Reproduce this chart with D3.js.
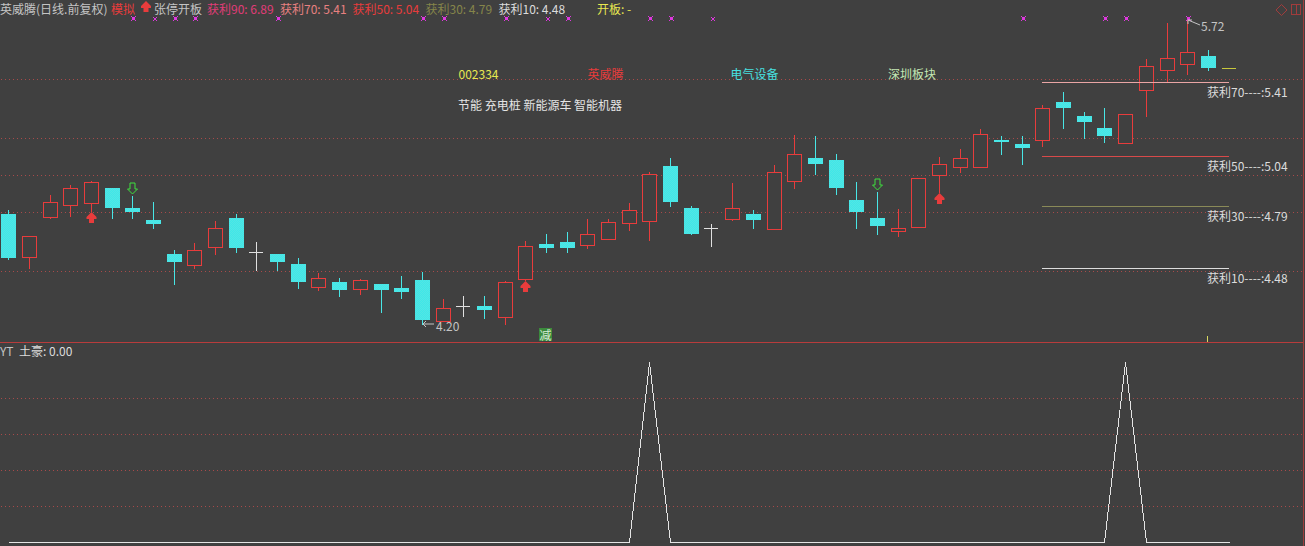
<!DOCTYPE html>
<html>
<head>
<meta charset="utf-8">
<script src="https://cdn.jsdelivr.net/npm/d3@7"></script>
<style>
  html, body { margin: 0; padding: 0; background: #404040; overflow: hidden; }
  svg { display: block; }
  text { font-family: "Noto Sans CJK SC", "DejaVu Sans", sans-serif; font-size: 12px; dominant-baseline: central; }
  .grid .domain { display: none; }
  .grid line { stroke: #a84a4a; stroke-dasharray: 1 3; shape-rendering: crispEdges; }
</style>
</head>
<body>
<svg id="chart"></svg>
<script>
const opens = [4.751,4.537,4.736,4.796,4.806,4.880,4.781,4.721,4.552,4.497,4.587,4.731,4.562,4.552,4.502,4.388,4.412,4.378,4.403,4.383,
  4.422,4.218,4.293,4.293,4.238,4.427,4.601,4.611,4.597,4.626,4.706,4.716,4.990,4.781,4.681,4.726,4.751,4.676,4.915,5.029,
  5.019,4.820,4.731,4.666,4.686,4.945,4.985,4.985,5.119,5.099,5.119,5.308,5.238,5.179,5.104,5.368,5.467,5.497,5.537]
const closes = [4.532,4.641,4.811,4.880,4.910,4.781,4.761,4.701,4.512,4.572,4.681,4.582,4.562,4.512,4.412,4.432,4.373,4.422,4.373,4.363,
  4.223,4.283,4.293,4.273,4.412,4.592,4.582,4.582,4.651,4.711,4.771,4.950,4.811,4.651,4.681,4.781,4.721,4.960,5.049,4.999,
  4.880,4.761,4.691,4.681,4.930,4.999,5.029,5.149,5.109,5.079,5.278,5.278,5.209,5.139,5.248,5.487,5.527,5.557,5.477]
const highs = [4.771,4.641,4.845,4.895,4.915,4.880,4.840,4.811,4.572,4.606,4.716,4.751,4.611,4.552,4.532,4.457,4.432,4.427,4.403,4.442,
  4.462,4.328,4.343,4.343,4.417,4.616,4.651,4.661,4.726,4.726,4.806,4.960,5.029,4.791,4.701,4.905,4.771,4.995,5.144,5.139,
  5.049,4.910,4.860,4.776,4.930,5.034,5.074,5.174,5.139,5.139,5.293,5.358,5.258,5.278,5.248,5.522,5.701,5.721,5.567]
const lows = [4.527,4.482,4.731,4.741,4.766,4.731,4.731,4.681,4.403,4.482,4.552,4.562,4.472,4.472,4.383,4.373,4.343,4.353,4.263,4.333,
  4.203,4.218,4.243,4.233,4.203,4.422,4.562,4.562,4.582,4.626,4.671,4.621,4.791,4.651,4.592,4.721,4.681,4.676,4.880,4.950,
  4.850,4.681,4.651,4.641,4.686,4.860,4.960,4.985,5.049,4.999,5.089,5.179,5.129,5.109,5.104,5.238,5.413,5.447,5.467]
const pendingOpen = 5.477 // today's open, no close yet

const tuhao = [0,0,0,0,0,0,0,0,0,0,0,0,0,0,0,0,0,0,0,0,0,0,0,0,0,0,0,0,0,0,0,1,0,0,0,0,0,0,0,0,
  0,0,0,0,0,0,0,0,0,0,0,0,0,0,1,0,0,0,0,0]

const limitMarks = [6,7,8,9,13,20,21,24,26,27,31,32,34,49,53,54,57]
const smallMarks = [7,26,34]
const upArrows = [4,25,45]
const downArrows = [6,42]

const priceGrid = [5.422,5.129,4.945,4.761,4.467]
const lowerGrid = [0.2,0.4,0.6,0.8]

const profitNames = ['获利70','获利50','获利30','获利10']
const profitValues = [5.41,5.04,4.79,4.48]
const profitColors = ['#eaa5a5','#d84a4a','#8a8a58','#dcdcdc']

const headerLabels = ['英威腾(日线.前复权)','模拟','张停开板','获利90: 6.89','获利70: 5.41','获利50: 5.04','获利30: 4.79','获利10: 4.48','开板: -']
const headerColors = ['#c4c4c4','#e83c3c','#c4c4c4','#e03c78','#e88080','#e83c3c','#85854a','#dcdcdc','#e8e850']
const infoLabels = ['002334','英威腾','电气设备','深圳板块']
const infoColors = ['#e8e850','#e83c3c','#48e0e0','#c4e8b4']
const conceptLabel = '节能 充电桩 新能源车 智能机器'

const WIDTH = 1305
const HEIGHT = 546
const BG = '#404040'
const RED = '#e83c3c'
const CYAN = 'url(#dither)'
const CYAN_LINE = '#48e6e6'
const WHITE = '#e0e0e0'
const SPLIT_Y = 342

const svg = d3.select('#chart').attr('width', WIDTH).attr('height', HEIGHT)

// dither the solid candles, the terminal draws them that way
const pat = svg.append('defs').append('pattern')
  .attr('id', 'dither')
  .attr('width', 2).attr('height', 2)
  .attr('patternUnits', 'userSpaceOnUse')
pat.append('rect').attr('width', 2).attr('height', 2).attr('fill', '#3ee8e8')
pat.append('rect').attr('width', 1).attr('height', 1).attr('fill', '#54e4e4')
pat.append('rect').attr('x', 1).attr('y', 1).attr('width', 1).attr('height', 1).attr('fill', '#54e4e4')

const x = d3.scaleLinear().domain([0, 59]).range([8.19, 8.19 + 59 * 20.685])
const px = i => Math.round(x(i))
const y = d3.scaleLinear().domain([4.48, 5.41]).range([268.4, 81.5])
const py = v => Math.round(y(v))
const yLower = d3.scaleLinear().domain([0, 1]).range([542, 362])

// Grids, the axis adds the half pixel itself
svg.append('g').attr('class', 'grid')
  .attr('transform', `translate(${WIDTH - 3},0)`)
  .call(d3.axisLeft(d3.scaleIdentity().domain([0, HEIGHT])).tickValues(priceGrid.map(py)).tickSize(WIDTH - 3).tickFormat(''))
svg.append('g').attr('class', 'grid')
  .attr('transform', `translate(${WIDTH - 3},0)`)
  .call(d3.axisLeft(d3.scaleIdentity().domain([0, HEIGHT])).tickValues(lowerGrid.map(yLower)).tickSize(WIDTH - 3).tickFormat(''))

// Frame
svg.append('line').attr('x1', 0).attr('x2', WIDTH - 2).attr('y1', SPLIT_Y + 0.5).attr('y2', SPLIT_Y + 0.5)
  .attr('stroke', '#b83c3c').attr('shape-rendering', 'crispEdges')
svg.append('line').attr('x1', WIDTH - 1.5).attr('x2', WIDTH - 1.5).attr('y1', 0).attr('y2', HEIGHT)
  .attr('stroke', '#a03c3c').attr('shape-rendering', 'crispEdges')

// Candles
const candleData = opens.map((o, i) => ({ i, o, c: closes[i], h: highs[i], l: lows[i] }))
const kind = d => d.c > d.o ? 'up' : d.c < d.o ? 'down' : 'flat'
const candles = svg.append('g').attr('shape-rendering', 'crispEdges')
  .selectAll('g').data(candleData).join('g')

candles.append('line')
  .attr('x1', d => px(d.i) + 0.5).attr('x2', d => px(d.i) + 0.5)
  .attr('y1', d => py(d.h)).attr('y2', d => py(d.l) + 1)
  .attr('stroke', d => ({ up: RED, down: CYAN_LINE, flat: WHITE })[kind(d)])

candles.filter(d => kind(d) === 'up').append('rect')
  .attr('x', d => px(d.i) - 6.5).attr('width', 14)
  .attr('y', d => py(d.c) + 0.5).attr('height', d => py(d.o) - py(d.c))
  .attr('fill', BG).attr('stroke', RED)

candles.filter(d => kind(d) === 'down').append('rect')
  .attr('x', d => px(d.i) - 7).attr('width', 15)
  .attr('y', d => py(d.o)).attr('height', d => py(d.c) - py(d.o))
  .attr('fill', CYAN)

candles.filter(d => kind(d) === 'flat').append('line')
  .attr('x1', d => px(d.i) - 7).attr('x2', d => px(d.i) + 7)
  .attr('y1', d => py(d.c) + 0.5).attr('y2', d => py(d.c) + 0.5)
  .attr('stroke', WHITE)

// today's open dash
svg.append('line').attr('x1', px(59) - 7).attr('x2', px(59) + 7)
  .attr('y1', py(pendingOpen) + 0.5).attr('y2', py(pendingOpen) + 0.5)
  .attr('stroke', '#c8c83c').attr('shape-rendering', 'crispEdges')

// Signals
const UP_ARROW = 'M0,0L5,5V7H2.5V11H-2.5V7H-5V5Z'
const DOWN_ARROW = 'M-2.5,0H2.5V6H5L0,11L-5,6H-2.5Z'
svg.append('g').selectAll('path').data(upArrows).join('path')
  .attr('d', UP_ARROW).attr('fill', RED)
  .attr('transform', i => `translate(${px(i) + 0.5},${py(lows[i]) + 1})`)
svg.append('g').selectAll('path').data(downArrows).join('path')
  .attr('d', DOWN_ARROW).attr('fill', 'none').attr('stroke', '#3ee03e')
  .attr('transform', i => `translate(${px(i) + 0.5},${py(highs[i]) - 13})`)
svg.append('path').attr('d', UP_ARROW).attr('fill', RED).attr('transform', 'translate(146,1)')

const BIG_MARK = 'M-1,-1h3v3h-3zM-2,-2h1v1h-1zM2,-2h1v1h-1zM-2,2h1v1h-1zM2,2h1v1h-1z'
const SMALL_MARK = 'M0,0h2v2h-2zM-1,-1h1v1h-1zM2,-1h1v1h-1zM-1,2h1v1h-1zM2,2h1v1h-1z'
svg.append('g').attr('shape-rendering', 'crispEdges')
  .selectAll('path').data(limitMarks).join('path')
  .attr('d', i => smallMarks.includes(i) ? SMALL_MARK : BIG_MARK)
  .attr('fill', '#e038e0')
  .attr('transform', i => `translate(${px(i) + 1},18)`)

// High / low labels
const loIdx = lows.indexOf(d3.min(lows))
const hiIdx = highs.indexOf(d3.max(highs))
svg.append('path')
  .attr('d', `M${px(loIdx) + 1},${py(lows[loIdx])}h11M${px(loIdx) + 4},${py(lows[loIdx]) - 3}l-3,3l3,3`)
  .attr('fill', 'none').attr('stroke', '#c4c4c4')
svg.append('text').attr('x', px(loIdx) + 14).attr('y', py(lows[loIdx]) + 1).attr('fill', '#c4c4c4').text(d3.format('.2f')(lows[loIdx]))
svg.append('path')
  .attr('d', `M${px(hiIdx) + 1},${py(highs[hiIdx]) + 1}l12,5M${px(hiIdx) + 1},${py(highs[hiIdx]) + 5}v-4h4`)
  .attr('fill', 'none').attr('stroke', '#c4c4c4')
svg.append('text').attr('x', px(hiIdx) + 14).attr('y', py(highs[hiIdx]) + 6).attr('fill', '#c4c4c4').text(d3.format('.2f')(highs[hiIdx]))

// Profit lines on the right
const profit = svg.append('g').selectAll('g').data(profitValues).join('g')
profit.append('line').attr('shape-rendering', 'crispEdges')
  .attr('x1', px(50)).attr('x2', px(59))
  .attr('y1', v => py(v) + 0.5).attr('y2', v => py(v) + 0.5)
  .attr('stroke', (v, i) => profitColors[i])
profit.append('text').attr('x', 1207).attr('y', v => py(v) + 9).attr('fill', '#dcdcdc')
  .text((v, i) => `${profitNames[i]}----:${d3.format('.2f')(v)}`)

// Header
const headerX = [0, 111, 154, 207, 280, 352.5, 425.5, 498.5, 597]
svg.append('g').selectAll('text').data(headerLabels).join('text')
  .attr('x', (d, i) => headerX[i]).attr('y', 8)
  .attr('fill', (d, i) => headerColors[i]).text(d => d)

// Stock info block
const infoX = [458.5, 587.5, 730.5, 888]
svg.append('g').selectAll('text').data(infoLabels).join('text')
  .attr('x', (d, i) => infoX[i]).attr('y', 73)
  .attr('fill', (d, i) => infoColors[i]).text(d => d)
svg.append('text').attr('x', 458).attr('y', 104).attr('fill', '#e4e4e4').text(conceptLabel)

// 减 tag
svg.append('rect').attr('x', 539).attr('y', 328).attr('width', 13).attr('height', 13).attr('fill', '#3c8a3c')
svg.append('text').attr('x', 539.5).attr('y', 334).attr('fill', '#d8ecd8').text('减')

// small tick above the divider
svg.append('line').attr('x1', px(58) - 0.5).attr('x2', px(58) - 0.5).attr('y1', 336).attr('y2', SPLIT_Y)
  .attr('stroke', '#d8d860').attr('shape-rendering', 'crispEdges')

// Window icons
const icons = svg.append('g').attr('fill', 'none').attr('stroke', '#a03c3c').attr('shape-rendering', 'crispEdges')
icons.append('path').attr('d', 'M1281.5,4.5l5.5,5.5l-5.5,5.5l-5.5,-5.5Z').attr('shape-rendering', 'auto')
icons.append('rect').attr('x', 1291.5).attr('y', 4.5).attr('width', 9).attr('height', 10)
icons.append('line').attr('x1', 1296.5).attr('x2', 1296.5).attr('y1', 4.5).attr('y2', 14.5)

// Lower panel
svg.append('text').attr('x', 0).attr('y', 350).attr('fill', '#c4c4c4').text('YT')
svg.append('text').attr('x', 19).attr('y', 350).attr('fill', '#dcdcdc').text(`土豪: ${d3.format('.2f')(tuhao[tuhao.length - 1])}`)

const tuhaoLine = d3.line().x((d, i) => px(i)).y(d => yLower(d))
svg.append('path').datum(tuhao)
  .attr('d', tuhaoLine)
  .attr('fill', 'none').attr('stroke', '#e4e4e4')
  .attr('transform', 'translate(0.5,0.5)')
  .attr('shape-rendering', 'crispEdges')
</script>
</body>
</html>
